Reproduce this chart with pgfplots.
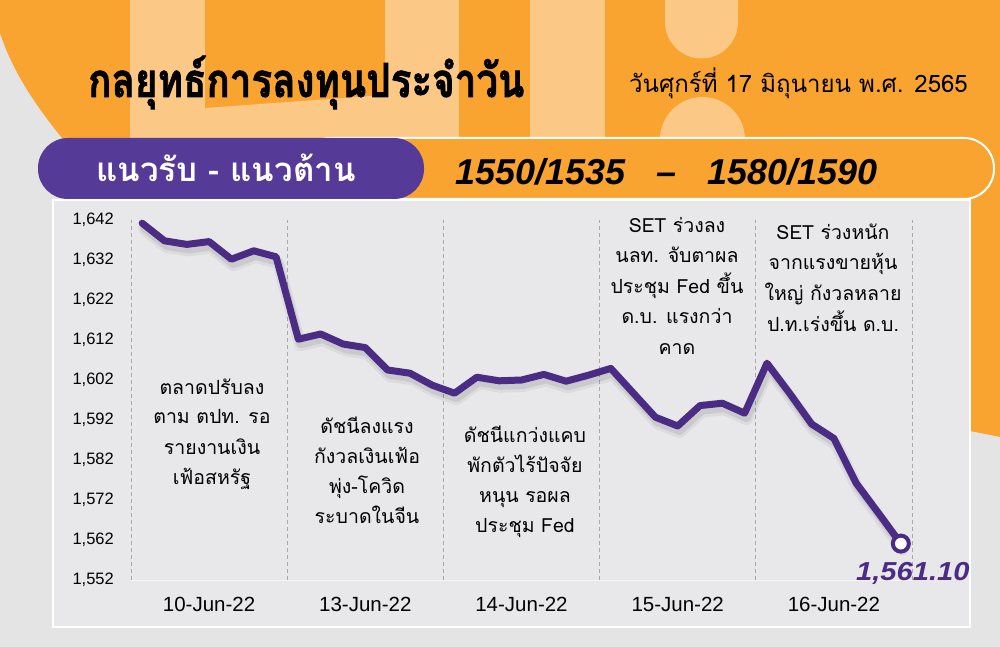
\documentclass[border=0pt]{standalone}
\usepackage{fontspec}
\usepackage{graphicx}
\usepackage{pgfplots}
\pgfplotsset{compat=1.18}
\setmainfont{Liberation Sans}
\newfontfamily\thai[Script=Thai]{Loma}
\newfontfamily\thaiheavy[Script=Thai, BoldFeatures={FakeBold=1.6}]{Loma}

\definecolor{orangeD}{HTML}{F9A331}
\definecolor{orangeL}{HTML}{FCC886}
\definecolor{bgGrey}{HTML}{E4E4E5}
\definecolor{panelGrey}{HTML}{E8E8EA}
\definecolor{pill}{HTML}{553A97}
\definecolor{setLine}{HTML}{4B2C84}
\definecolor{sepGrey}{HTML}{A9A9A9}

% SET index, seven readings per trading day, 10-16 Jun 2022
\pgfplotstableread{
idx  set
0  1641.2
1  1636.8
2  1635.9
3  1636.6
4  1632.2
5  1634.3
6  1632.8
7  1612.2
8  1613.5
9  1611.0
10 1610.1
11 1604.5
12 1603.7
13 1600.7
14 1598.7
15 1602.7
16 1601.8
17 1602.0
18 1603.4
19 1601.7
20 1603.2
21 1604.9
22 1598.8
23 1592.7
24 1590.5
25 1595.6
26 1596.2
27 1593.7
28 1606.2
29 1598.8
30 1591.0
31 1587.4
32 1576.2
33 1568.7
34 1561.1
}\setdata

\newcommand{\ann}{\thai\fontsize{19.5bp}{19.5bp}\selectfont}

\begin{document}
\begin{tikzpicture}
\useasboundingbox (0,0) rectangle (1000bp,647bp);
\begin{scope}[x=1bp,y=-1bp,shift={(0,647bp)}]
  % background
  \fill[bgGrey] (0,0) rectangle (1000,647);
  \fill[orangeD] (0,0) -- (1000,0) -- (1000,437) -- (965,430) -- (965,170)
     -- (62,170) -- (62,138) .. controls (35,105) and (12,70) .. (0,33) -- cycle;
  % light letter shapes
  \fill[orangeL] (130,0) rectangle (205,175);
  \fill[orangeL] (205,108) -- (385,95) -- (385,175) -- (205,175) -- cycle;
  \fill[orangeL] (385,0) rectangle (459,175);
  \fill[orangeL] (530,0) rectangle (605,175);
  \fill[orangeL] (665,0) -- (665,22) arc[start angle=180,end angle=0,radius=36.5] -- (738,0) -- cycle;
  \fill[orangeL] (660,175) -- (660,139.5) arc[start angle=180,end angle=360,radius=42.5] -- (745,175) -- cycle;
  % band with support / resistance
  \draw[white, line width=2bp, fill=orangeD, rounded corners=30bp] (300,138) rectangle (994,199);
  \fill[pill, rounded corners=30bp] (38,138) rectangle (424,199);
  % chart panel
  \draw[white, line width=2bp, fill=panelGrey] (53,200) rectangle (970,627);

  % headings
  \node[anchor=base west, inner sep=0] at (88,97)
     {\scalebox{0.82}[1]{\thaiheavy\bfseries\fontsize{47bp}{47bp}\selectfont กลยุทธ์การลงทุนประจำวัน}};
  \node[anchor=base east, inner sep=0] at (968,93)
     {\thai\fontsize{24bp}{24bp}\selectfont วันศุกร์ที่ 17 มิถุนายน พ.ศ. 2565};
  \node[anchor=base, white, inner sep=0] at (226,182)
     {\thai\bfseries\fontsize{33bp}{33bp}\selectfont แนวรับ - แนวต้าน};
  \node[anchor=base west, inner sep=0] at (455,185)
     {\bfseries\itshape\fontsize{36bp}{36bp}\selectfont 1550/1535};
  \node[anchor=base, inner sep=0] at (667,185)
     {\bfseries\itshape\fontsize{36bp}{36bp}\selectfont –};
  \node[anchor=base east, inner sep=0] at (878,185)
     {\bfseries\itshape\fontsize{36bp}{36bp}\selectfont 1580/1590};

  % daily comments
  \foreach \t/\y in {ตลาดปรับลง/395, ตาม ตปท. รอ/424, รายงานเงิน/455, เฟ้อสหรัฐ/485}
     \node[anchor=base, inner sep=0] at (212,\y) {\ann \t};
  \foreach \t/\y in {ดัชนีลงแรง/434, กังวลเงินเฟ้อ/464, พุ่ง-โควิด/494, ระบาดในจีน/524}
     \node[anchor=base, inner sep=0] at (367,\y) {\ann \t};
  \foreach \t/\y in {ดัชนีแกว่งแคบ/443, พักตัวไร้ปัจจัย/473, หนุน รอผล/503, ประชุม Fed/533}
     \node[anchor=base, inner sep=0] at (525,\y) {\ann \t};
  \foreach \t/\y in {SET ร่วงลง/233, นลท. จับตาผล/263, ประชุม Fed ขึ้น/294, ด.บ. แรงกว่า/324, คาด/355}
     \node[anchor=base, inner sep=0] at (677,\y) {\ann \t};
  \foreach \t/\y in {SET ร่วงหนัก/240, จากแรงขายหุ้น/270, ใหญ่ กังวลหลาย/301, ป.ท.เร่งขึ้น ด.บ./332}
     \node[anchor=base, inner sep=0] at (833,\y) {\ann \t};
\end{scope}

\begin{axis}[
  at={(131bp,67bp)}, anchor=south west,
  scale only axis, width=781bp, height=360bp,
  xmin=-0.5, xmax=34.5, ymin=1552, ymax=1642,
  axis line style={draw=none}, major tick length=0pt,
  ytick={1552,1562,...,1642},
  xtick={3,10,17,24,31},
  xticklabels={10-Jun-22,13-Jun-22,14-Jun-22,15-Jun-22,16-Jun-22},
  extra x ticks={-0.5,6.5,13.5,20.5,27.5,34.5},
  extra x tick labels={},
  extra x tick style={grid=major,
     major grid style={sepGrey, line width=1bp, dash pattern=on 4bp off 3bp}},
  /pgf/number format/.cd, 1000 sep={,}, assume math mode=true, /pgfplots/.cd,
  yticklabel style={font=\fontsize{16.5bp}{16.5bp}\selectfont, inner sep=0pt, xshift=-17bp},
  xticklabel style={font=\fontsize{20.5bp}{20.5bp}\selectfont, inner sep=0pt, yshift=-17bp},
  clip=false,
]
  \draw[white!96!black, line width=1bp] (axis cs:-0.5,1552) -- (axis cs:34.5,1552);
  % soft shadow under the index line
  \addplot[black, opacity=0.05, line width=12bp, line join=round, line cap=round,
     transform canvas={xshift=2bp, yshift=-6bp}] table[x=idx, y=set] {\setdata};
  \addplot[black, opacity=0.08, line width=8bp, line join=round, line cap=round,
     transform canvas={xshift=2bp, yshift=-5bp}] table[x=idx, y=set] {\setdata};
  \addplot[setLine, line width=7bp, line join=round, line cap=round] table[x=idx, y=set] {\setdata};
  \addplot[only marks, mark=*, mark size=8bp,
     mark options={fill=white, draw=setLine, line width=4bp}] coordinates {(34,1561.1)};
  \node[setLine, inner sep=0]
     at (axis cs:34,1561.1) [xshift=12bp, yshift=-30bp]
     {\scalebox{1.12}[1]{\bfseries\itshape\fontsize{26bp}{26bp}\selectfont 1,561.10}};
\end{axis}
\end{tikzpicture}
\end{document}
